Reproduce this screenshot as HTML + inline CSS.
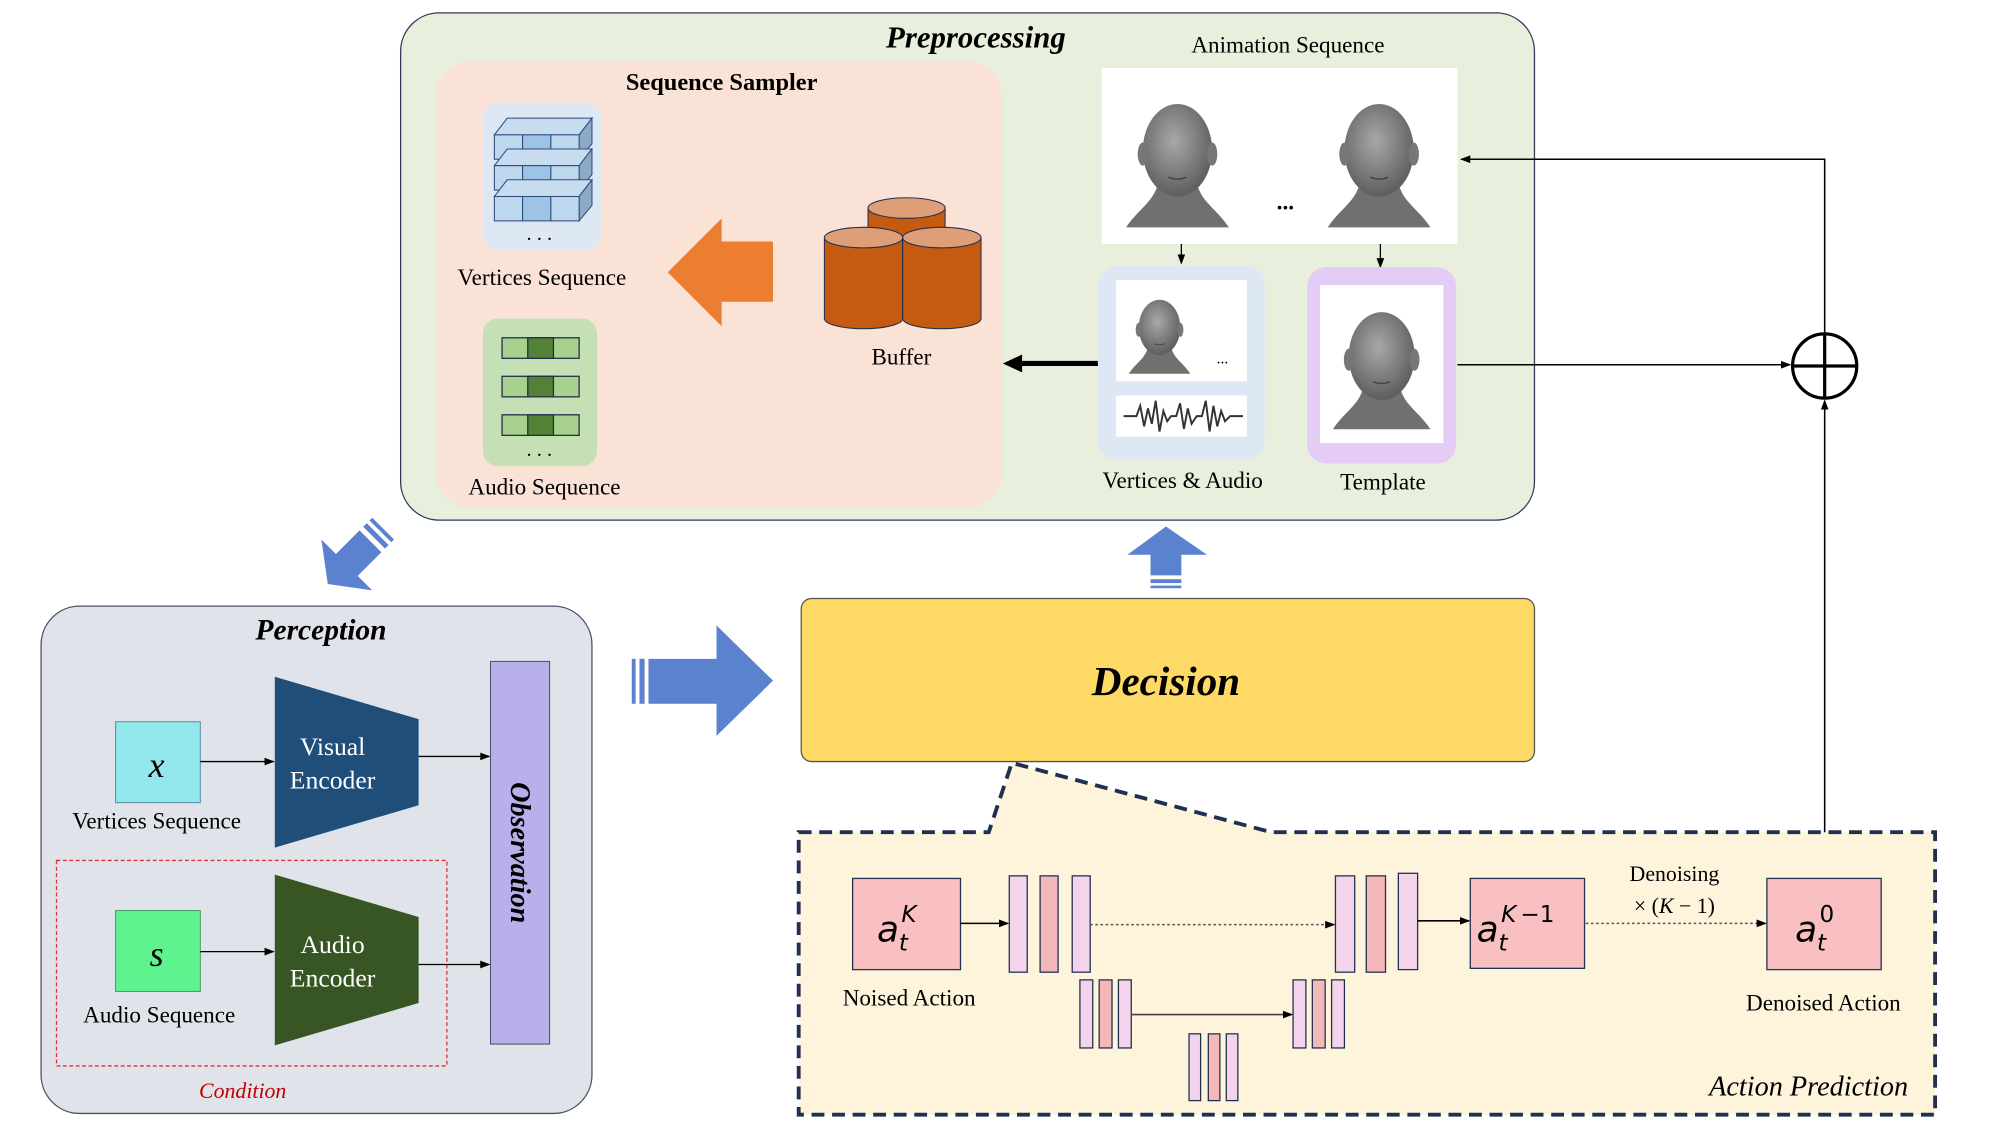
<!DOCTYPE html>
<html><head><meta charset="utf-8"><style>html,body{margin:0;padding:0;background:#fff}svg{display:block}</style></head>
<body>
<svg width="2016" height="1134" viewBox="0 0 1570 883" preserveAspectRatio="none" xmlns="http://www.w3.org/2000/svg" font-family="'Liberation Serif', serif">
<defs>
<marker id="ar" markerWidth="8" markerHeight="8" refX="7" refY="4" orient="auto" markerUnits="userSpaceOnUse"><path d="M0,1 L8,4 L0,7 Z" fill="#000"/></marker>
<radialGradient id="fg" cx="0.45" cy="0.4" r="0.6"><stop offset="0" stop-color="#a8a8a8"/><stop offset="1" stop-color="#5e5e5e"/></radialGradient>
<g id="face">
<path d="M-40,55 C-30,40 -18,35 -15,20 L15,20 C18,35 30,40 40,55 Z" fill="#707070"/>
<ellipse cx="0" cy="-5" rx="27" ry="36" fill="url(#fg)"/>
<ellipse cx="-27" cy="-2" rx="4" ry="9" fill="#777"/><ellipse cx="27" cy="-2" rx="4" ry="9" fill="#777"/>
<path d="M-7,16 Q0,19 7,16" stroke="#444" stroke-width="1.2" fill="none"/>
</g>
</defs>

<rect x="312" y="10" width="883" height="395" rx="30" fill="#e8efdc" stroke="#2f3a55" stroke-width="1"/>
<text x="760" y="37" font-size="24" font-weight="bold" font-style="italic" text-anchor="middle">Preprocessing</text>
<rect x="340" y="48" width="440" height="347" rx="25" fill="#fae3d6"/>
<text x="562" y="70" font-size="19" font-weight="bold" text-anchor="middle">Sequence Sampler</text>

<rect x="376" y="80" width="92" height="115" rx="12" fill="#dde8f4"/>
<g stroke="#2f4a7a" stroke-width="0.8">
<g id="cr"><polygon points="385,105 395,92 461,92 451,105" fill="#c8dcf0"/><polygon points="451,105 461,92 461,112 451,124" fill="#8ea9c8"/>
<rect x="385" y="105" width="22" height="19" fill="#bdd7ee"/><rect x="407" y="105" width="22" height="19" fill="#9dc3e6"/><rect x="429" y="105" width="22" height="19" fill="#bdd7ee"/></g>
<use href="#cr" y="24"/><use href="#cr" y="48"/>
</g>
<text x="420" y="187" font-size="16" text-anchor="middle">. . .</text>
<text x="422" y="222" font-size="18" text-anchor="middle">Vertices Sequence</text>

<polygon points="520,212 562,170 562,188 602,188 602,235 562,235 562,254" fill="#ed7d31"/>

<g stroke="#1f2d50" stroke-width="0.8">
<rect x="676" y="162" width="60" height="30" fill="#c55a11"/><ellipse cx="706" cy="162" rx="30" ry="8" fill="#dd9e78"/>
<path d="M642,185 L642,248 A30.5,8 0 0 0 703,248 L703,185 Z" fill="#c55a11"/><ellipse cx="672.5" cy="185" rx="30.5" ry="8" fill="#dd9e78"/>
<path d="M703,185 L703,248 A30.5,8 0 0 0 764,248 L764,185 Z" fill="#c55a11"/><ellipse cx="733.5" cy="185" rx="30.5" ry="8" fill="#dd9e78"/>
</g>
<text x="702" y="284" font-size="18" text-anchor="middle">Buffer</text>

<rect x="376" y="248" width="89" height="115" rx="12" fill="#c5e0b4"/>
<g stroke="#1f2d50" stroke-width="1">
<rect x="391" y="263" width="60" height="16" fill="#a9d18e"/><rect x="411" y="263" width="20" height="16" fill="#548235"/>
<rect x="391" y="293" width="60" height="16" fill="#a9d18e"/><rect x="411" y="293" width="20" height="16" fill="#548235"/>
<rect x="391" y="323" width="60" height="16" fill="#a9d18e"/><rect x="411" y="323" width="20" height="16" fill="#548235"/>
</g>
<text x="420" y="355" font-size="16" text-anchor="middle">. . .</text>
<text x="424" y="385" font-size="18" text-anchor="middle">Audio Sequence</text>

<text x="1003" y="41" font-size="18" text-anchor="middle">Animation Sequence</text>
<rect x="858" y="53" width="277" height="137" fill="#fff"/>
<use href="#face" transform="translate(917,122)"/>
<use href="#face" transform="translate(1074,122)"/>
<text x="1001" y="163" font-size="18" font-weight="bold" text-anchor="middle">...</text>
<line x1="920" y1="190" x2="920" y2="205" stroke="#000" marker-end="url(#ar)"/>
<line x1="1075" y1="190" x2="1075" y2="208" stroke="#000" marker-end="url(#ar)"/>

<rect x="855" y="207" width="130" height="151" rx="15" fill="#dde8f4"/>
<rect x="869" y="218" width="102" height="79" fill="#fff"/>
<use href="#face" transform="translate(903,258) scale(0.6)"/>
<text x="952" y="283" font-size="12" text-anchor="middle">...</text>
<rect x="869" y="308" width="102" height="32" fill="#fff"/>
<path d="M875,324 L885,324 L888,316 L891,332 L894,318 L897,330 L900,312 L903,336 L906,320 L909,328 L912,324 L916,324 L919,314 L922,334 L925,318 L928,330 L932,324 L936,324 L939,312 L942,336 L945,316 L948,332 L951,320 L954,328 L958,324 L968,324" stroke="#333" stroke-width="1.5" fill="none"/>
<text x="921" y="380" font-size="18" text-anchor="middle">Vertices &amp; Audio</text>

<rect x="1018" y="208" width="116" height="153" rx="15" fill="#e4ccf6"/>
<rect x="1028" y="222" width="96" height="123" fill="#fff"/>
<use href="#face" transform="translate(1076,282) scale(0.95)"/>
<text x="1077" y="381" font-size="18" text-anchor="middle">Template</text>

<line x1="855" y1="283" x2="795" y2="283" stroke="#000" stroke-width="4"/>
<polygon points="781,283 796,276 796,290" fill="#000"/>

<line x1="1135" y1="284" x2="1394" y2="284" stroke="#000" stroke-width="1.2" marker-end="url(#ar)"/>
<circle cx="1421" cy="285" r="25" fill="none" stroke="#000" stroke-width="2.5"/>
<line x1="1396" y1="285" x2="1446" y2="285" stroke="#000" stroke-width="2.5"/>
<line x1="1421" y1="260" x2="1421" y2="310" stroke="#000" stroke-width="2.5"/>
<polyline points="1421,260 1421,124 1138,124" fill="none" stroke="#000" stroke-width="1.2" marker-end="url(#ar)"/>
<line x1="1421" y1="684" x2="1421" y2="312" stroke="#000" stroke-width="1.2" marker-end="url(#ar)"/>

<g transform="translate(280,430) rotate(135)" fill="#5b82cf">
<polygon points="35,0 14,-28 14,-12 -12,-12 -12,12 14,12 14,28"/>
<rect x="-20" y="-12" width="4" height="24"/><rect x="-26" y="-12" width="3" height="24"/>
</g>

<rect x="32" y="472" width="429" height="395" rx="30" fill="#e0e4ea" stroke="#4a5268" stroke-width="1"/>
<text x="250" y="498" font-size="23" font-weight="bold" font-style="italic" text-anchor="middle">Perception</text>
<rect x="44" y="670" width="304" height="160" fill="none" stroke="#e03030" stroke-width="1" stroke-dasharray="3,2"/>
<text x="189" y="855" font-size="17" font-style="italic" fill="#c00000" text-anchor="middle">Condition</text>

<rect x="90" y="562" width="66" height="63" fill="#93e8ee" stroke="#5a8fa0" stroke-width="0.8"/>
<text x="122" y="605" font-size="28" font-style="italic" text-anchor="middle">x</text>
<text x="122" y="645" font-size="18" text-anchor="middle">Vertices Sequence</text>
<polygon points="214,527 326,560 326,627 214,660" fill="#1f4e79"/>
<text x="259" y="588" font-size="20" fill="#fff" text-anchor="middle">Visual</text>
<text x="259" y="614" font-size="20" fill="#fff" text-anchor="middle">Encoder</text>
<line x1="156" y1="593" x2="213" y2="593" stroke="#000" marker-end="url(#ar)"/>
<line x1="326" y1="589" x2="381" y2="589" stroke="#000" marker-end="url(#ar)"/>

<rect x="90" y="709" width="66" height="63" fill="#5ef38f" stroke="#4a9a60" stroke-width="0.8"/>
<text x="122" y="752" font-size="28" font-style="italic" text-anchor="middle">s</text>
<text x="124" y="796" font-size="18" text-anchor="middle">Audio Sequence</text>
<polygon points="214,681 326,714 326,781 214,814" fill="#375623"/>
<text x="259" y="742" font-size="20" fill="#fff" text-anchor="middle">Audio</text>
<text x="259" y="768" font-size="20" fill="#fff" text-anchor="middle">Encoder</text>
<line x1="156" y1="741" x2="213" y2="741" stroke="#000" marker-end="url(#ar)"/>
<line x1="326" y1="751" x2="381" y2="751" stroke="#000" marker-end="url(#ar)"/>

<rect x="382" y="515" width="46" height="298" fill="#b8b0ea" stroke="#4a5268" stroke-width="0.8"/>
<text transform="translate(398,664) rotate(90)" font-size="22" font-weight="bold" font-style="italic" text-anchor="middle">Observation</text>

<g fill="#5b82cf">
<rect x="492" y="513" width="3" height="35"/><rect x="498" y="513" width="4" height="35"/>
<polygon points="505,513 558,513 558,487 602,530 558,573 558,548 505,548"/>
</g>

<rect x="624" y="466" width="571" height="127" rx="8" fill="#ffd966" stroke="#555" stroke-width="1"/>
<text x="908" y="541" font-size="32" font-weight="bold" font-style="italic" text-anchor="middle">Decision</text>

<g fill="#5b82cf">
<polygon points="908,410 940,432 920,432 920,448 896,448 896,432 878,432"/>
<rect x="896" y="451" width="24" height="3"/><rect x="896" y="456" width="24" height="2"/>
</g>

<path d="M622,648 L770,648 L788,594 L990,648 L1507,648 L1507,868 L622,868 Z" fill="#fef4dc" stroke="#1f3050" stroke-width="3" stroke-dasharray="10,6"/>

<g stroke="#1f3050" stroke-width="1">
<rect x="664" y="684" width="84" height="71" fill="#f8c0c0"/>
<rect x="1145" y="684" width="89" height="70" fill="#f8c0c0"/>
<rect x="1376" y="684" width="89" height="71" fill="#f8c0c0"/>
<rect x="786" y="682" width="14" height="75" fill="#f4d4ec"/><rect x="810" y="682" width="14" height="75" fill="#f4b8b8"/><rect x="835" y="682" width="14" height="75" fill="#f4d4ec"/>
<rect x="1040" y="682" width="15" height="75" fill="#f4d4ec"/><rect x="1064" y="682" width="15" height="75" fill="#f4b8b8"/><rect x="1089" y="680" width="15" height="75" fill="#f4d4ec"/>
<rect x="841" y="763" width="10" height="53" fill="#f4d4ec"/><rect x="856" y="763" width="10" height="53" fill="#f4b8b8"/><rect x="871" y="763" width="10" height="53" fill="#f4d4ec"/>
<rect x="1007" y="763" width="10" height="53" fill="#f4d4ec"/><rect x="1022" y="763" width="10" height="53" fill="#f4b8b8"/><rect x="1037" y="763" width="10" height="53" fill="#f4d4ec"/>
<rect x="926" y="805" width="9" height="52" fill="#f4d4ec"/><rect x="941" y="805" width="9" height="52" fill="#f4b8b8"/><rect x="955" y="805" width="9" height="52" fill="#f4d4ec"/>
</g>
<line x1="748" y1="719" x2="785" y2="719" stroke="#000" stroke-width="1.2" marker-end="url(#ar)"/>
<line x1="849" y1="720" x2="1039" y2="720" stroke="#555" stroke-width="1.2" stroke-dasharray="2,2" marker-end="url(#ar)"/>
<line x1="1104" y1="717" x2="1144" y2="717" stroke="#000" stroke-width="1.2" marker-end="url(#ar)"/>
<line x1="881" y1="790" x2="1006" y2="790" stroke="#444" stroke-width="1.2" marker-end="url(#ar)"/>
<line x1="1235" y1="719" x2="1375" y2="719" stroke="#555" stroke-width="1.2" stroke-dasharray="2,2" marker-end="url(#ar)"/>

<g font-family="'DejaVu Sans', sans-serif" font-style="italic">
<text x="683" y="733" font-size="28">a</text><text x="700" y="740" font-size="18">t</text><text x="702" y="718" font-size="18">K</text>
<text x="1150" y="733" font-size="28">a</text><text x="1167" y="740" font-size="18">t</text><text x="1169" y="718" font-size="18">K</text><text x="1184" y="718" font-size="18" font-style="normal">−1</text>
<text x="1398" y="733" font-size="28">a</text><text x="1415" y="740" font-size="18">t</text><text x="1417" y="718" font-size="18" font-style="normal">0</text>
</g>
<text x="1304" y="686" font-size="17" text-anchor="middle">Denoising</text>
<text x="1304" y="711" font-size="17" text-anchor="middle">× (<tspan font-style="italic">K</tspan> − 1)</text>
<text x="708" y="783" font-size="18" text-anchor="middle">Noised Action</text>
<text x="1420" y="787" font-size="18" text-anchor="middle">Denoised Action</text>
<text x="1486" y="853" font-size="22" font-style="italic" text-anchor="end">Action Prediction</text>
</svg>
</body></html>
